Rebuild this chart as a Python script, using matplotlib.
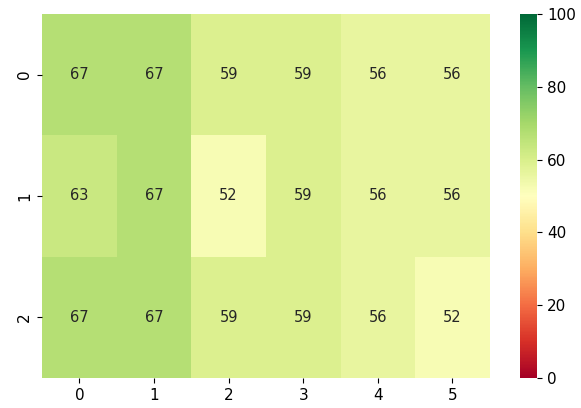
import matplotlib
matplotlib.use("Agg")
import matplotlib.pyplot as plt
import seaborn as sns
import numpy as np

row0 = [67, 67, 59, 59, 56, 56]
row1 = [63, 67, 52, 59, 56, 56]
row2 = [67, 67, 59, 59, 56, 52]
scores = np.array([row0, row1, row2])

fig = plt.figure(figsize=(5.81, 4.08), dpi=100)
ax = fig.add_axes([0.0723, 0.0735, 0.7707, 0.8925])
cax = fig.add_axes([0.895, 0.0735, 0.029, 0.8925])

sns.heatmap(scores, annot=True, cmap="RdYlGn", vmin=0, vmax=100,
            ax=ax, cbar_ax=cax, annot_kws={"fontsize": 10.5})

ax.tick_params(labelsize=11)
cax.tick_params(labelsize=11, pad=4)

fig.savefig("out.png", dpi=100)
